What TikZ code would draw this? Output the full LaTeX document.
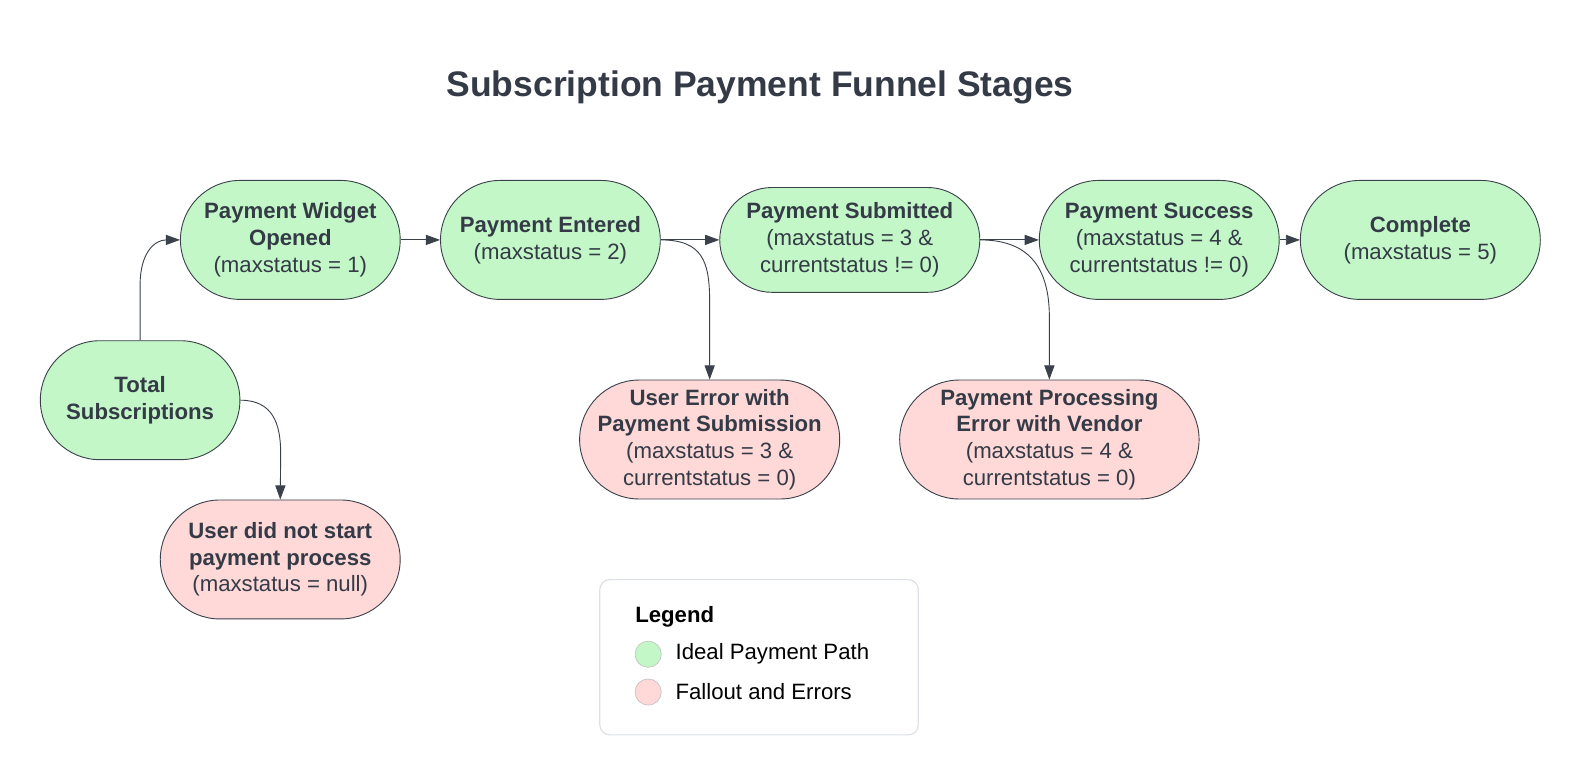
\documentclass[tikz,border=0pt]{standalone}
\usepackage{fontspec}
\setmainfont{Liberation Sans}
\usetikzlibrary{arrows.meta}
\definecolor{txt}{HTML}{343B46}
\definecolor{edge}{HTML}{3A414A}
\definecolor{gfill}{HTML}{C3F7C8}
\definecolor{rfill}{HTML}{FFD8D8}
\definecolor{lgborder}{HTML}{DDE1E6}
\tikzset{
  pill/.style={draw=edge, line width=0.9bp, rounded corners=59bp, minimum height=118bp,
    inner sep=0pt, align=center, text=txt, font=\fontsize{22bp}{26.5bp}\selectfont},
  goodnode/.style={pill, fill=gfill},
  badnode/.style={pill, fill=rfill},
  arr/.style={draw=edge, line width=0.9bp, -{Triangle[length=14bp,width=10bp]}},
  legtext/.style={anchor=west, inner sep=0pt, font=\fontsize{22bp}{26.5bp}\selectfont, text=black},
  legdot/.style={circle, minimum size=26bp, inner sep=0pt, line width=0.6bp}
}
\begin{document}
\begin{tikzpicture}[x=1bp,y=-1bp]
\useasboundingbox[fill=white] (0,0) rectangle (1567.4,770.8);

\node[text=txt, font=\fontsize{35.2bp}{40bp}\selectfont\bfseries] (title) at (754,87) {Subscription Payment Funnel Stages};

\node[goodnode, minimum width=198bp] (tot) at (139,397) {\textbf{Total}\\\textbf{Subscriptions}};
\node[goodnode, minimum width=218bp] (wid) at (288,238) {\textbf{Payment Widget}\\\textbf{Opened}\\(maxstatus = 1)};
\node[goodnode, minimum width=218bp] (ent) at (546,238) {\textbf{Payment Entered}\\(maxstatus = 2)};
\node[goodnode, minimum width=258bp, minimum height=104bp, rounded corners=52bp] (sub) at (843,238) {\textbf{Payment Submitted}\\(maxstatus = 3 \&\\currentstatus != 0)};
\node[goodnode, minimum width=238bp] (suc) at (1150,238) {\textbf{Payment Success}\\(maxstatus = 4 \&\\currentstatus != 0)};
\node[goodnode, minimum width=238bp] (com) at (1409,238) {\textbf{Complete}\\(maxstatus = 5)};

\node[badnode, minimum width=238bp] (nst) at (278,555) {\textbf{User did not start}\\\textbf{payment process}\\(maxstatus = null)};
\node[badnode, minimum width=258bp] (uer) at (704,436) {\textbf{User Error with}\\\textbf{Payment Submission}\\(maxstatus = 3 \&\\currentstatus = 0)};
\node[badnode, minimum width=297bp] (per) at (1041,436) {\textbf{Payment Processing}\\\textbf{Error with Vendor}\\(maxstatus = 4 \&\\currentstatus = 0)};

% connectors
\draw[arr] (tot.north) -- ++(0,-55) .. controls +(0,-32) and +(-25,0) .. (wid.west);
\draw[arr] (tot.east) .. controls +(32,0) and +(0,-30) .. ([xshift=40bp]tot.east |- 0,450) -- (nst.north);
\draw[arr] (wid.east) -- (ent.west);
\draw[arr] (ent.east) -- (sub.west);
\draw[arr] (ent.east) .. controls +(42,0) and +(0,-40) .. (uer.north |- 0,300) -- (uer.north);
\draw[arr] (sub.east) -- (suc.west);
\draw[arr] (sub.east) .. controls +(52,0) and +(0,-45) .. (per.north |- 0,315) -- (per.north);
\draw[arr] (suc.east) -- (com.west);

% legend
\node[draw=lgborder, line width=1.2bp, rounded corners=10bp, minimum width=316bp, minimum height=154bp, fill=white] (leg) at (753,652) {};
\node[legtext, font=\fontsize{22bp}{26.5bp}\selectfont\bfseries] (legt) at (630,612) {Legend};
\node[legdot, fill=gfill, draw=black!25] (gdot) at (643,649) {};
\node[legtext] (gtxt) at (670,649) {Ideal Payment Path};
\node[legdot, fill=rfill, draw=black!25] (rdot) at (643,686.5) {};
\node[legtext] (rtxt) at (670,686.5) {Fallout and Errors};
\end{tikzpicture}
\end{document}
